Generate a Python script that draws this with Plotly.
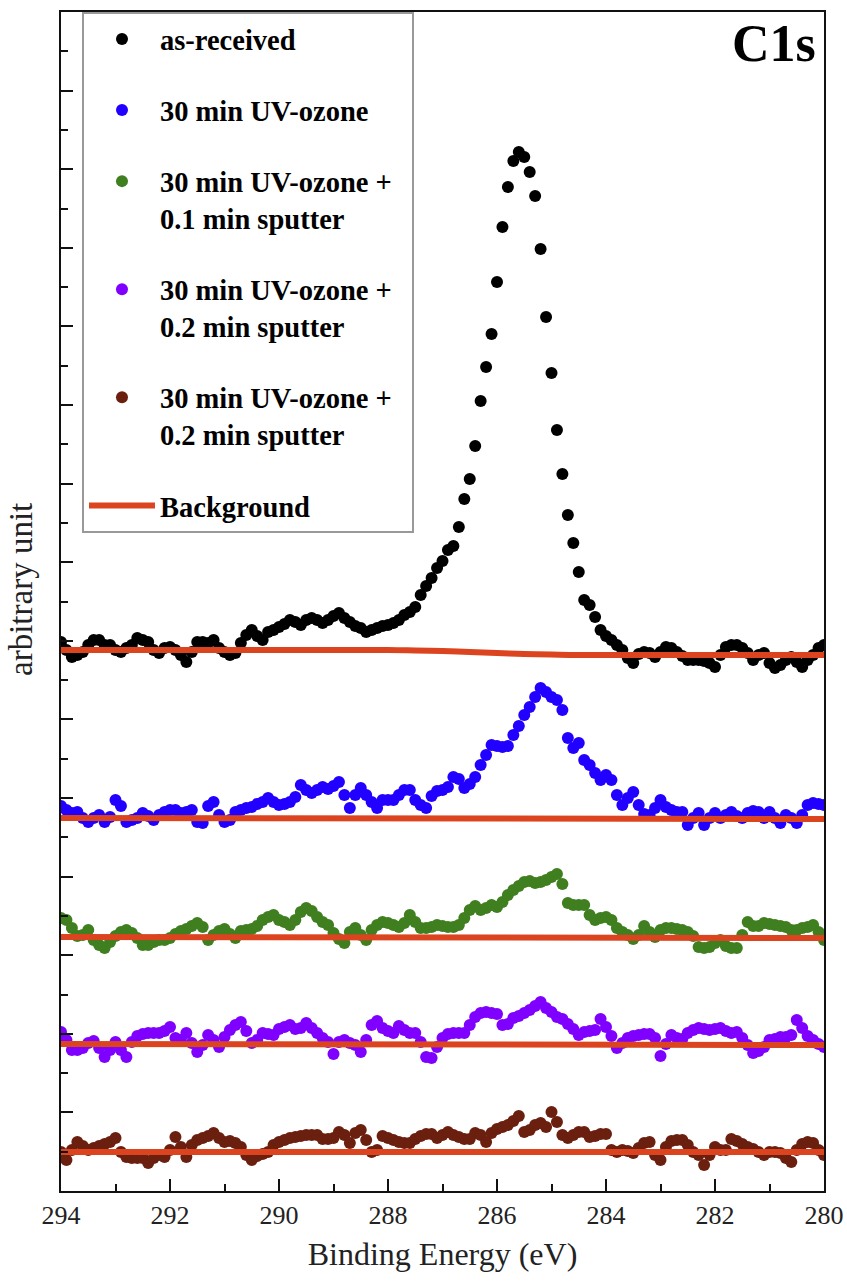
import numpy as np
import plotly.graph_objects as go

# Binding-energy grid (0.1 eV steps, 294 -> 280 eV)
energy = np.linspace(294, 280, 141)

# Intensities (arbitrary units, stacked as displayed)
as_received = [549,541,534,536,539,546,551,551,546,546,
 541,539,543,546,553,551,549,541,538,543,
 544,541,536,529,539,549,549,548,551,543,
 539,536,538,548,556,561,555,551,559,561,
 564,567,571,569,566,571,573,571,568,571,
 575,578,573,569,565,563,559,561,563,565,
 566,568,571,576,579,584,596,605,613,623,
 630,641,645,664,692,712,745,790,824,857,
 909,964,1004,1030,1039,1034,1019,995,942,874,
 818,761,717,676,648,619,591,586,574,561,
 555,551,546,541,533,528,537,539,538,534,
 539,544,543,539,535,531,531,531,530,528,
 524,536,544,546,546,543,538,531,536,538,
 528,523,526,531,534,529,524,531,536,543,
 546]

uv30 = [385,381,378,379,373,369,373,376,369,374,
 391,385,369,371,373,378,375,371,376,379,
 381,381,378,379,381,369,368,385,389,376,
 369,371,379,381,383,384,387,389,393,389,
 386,387,389,394,406,401,398,401,404,402,
 405,409,396,383,396,403,396,389,383,391,
 391,391,396,401,401,391,386,383,395,400,
 401,404,414,412,403,407,414,426,436,446,
 445,444,445,456,465,476,484,494,503,499,
 494,491,481,453,443,448,431,426,418,411,
 416,411,396,386,393,399,386,377,376,383,
 391,384,381,379,379,366,373,378,366,373,
 378,373,376,379,375,373,378,380,379,373,
 379,373,368,376,373,368,376,386,388,387,
 386]

uv30_sp01 = [273,271,263,255,256,261,251,246,243,249,
 255,259,261,258,253,246,246,249,251,251,
 253,257,260,262,265,268,264,251,256,260,
 262,257,253,260,261,262,265,271,274,276,
 271,269,266,271,279,283,280,274,269,266,
 258,252,248,259,263,256,251,261,266,269,
 268,266,264,268,276,269,263,263,264,266,
 265,264,264,266,273,281,285,281,283,286,
 284,289,296,301,305,309,310,308,309,311,
 314,317,307,288,286,286,286,276,271,273,
 274,271,263,259,256,252,256,265,259,254,
 261,263,263,262,261,259,255,244,243,244,
 248,251,245,243,243,256,269,265,265,268,
 267,266,265,264,261,261,263,264,266,259,
 251]

uv30_sp02a = [159,151,141,141,143,148,150,143,134,141,
 149,141,134,149,155,157,158,158,158,160,
 164,153,151,158,148,139,146,156,151,144,
 154,161,166,169,160,148,151,158,157,156,
 162,164,166,162,163,168,163,158,153,149,
 137,149,151,148,146,139,151,166,170,163,
 160,158,165,161,158,158,149,134,133,144,
 153,157,158,158,158,166,174,178,179,178,
 177,166,167,173,175,178,181,185,189,183,
 179,174,172,167,162,156,159,160,161,172,
 164,155,143,148,153,155,156,157,157,153,
 135,147,156,153,152,158,161,163,162,161,
 162,163,160,158,159,153,146,138,140,144,
 151,152,154,154,156,171,163,155,151,147,
 144]

uv30_sp02b = [39,31,41,49,45,41,43,45,47,49,
 53,39,34,33,33,33,28,33,36,34,
 41,54,44,34,46,51,53,55,58,53,
 49,50,48,44,36,31,35,37,39,46,
 49,51,53,54,55,56,56,56,52,52,
 53,59,56,48,58,61,51,39,41,55,
 53,51,49,48,48,52,55,57,57,53,
 56,59,56,54,52,52,58,56,49,58,
 62,64,66,70,75,59,61,66,68,64,
 79,69,56,53,56,59,59,54,55,57,
 57,41,39,41,40,38,43,48,49,36,
 31,44,50,51,51,46,39,36,26,36,
 44,41,41,52,50,47,44,42,39,36,
 39,39,38,33,29,41,47,49,48,41,
 36]

# Backgrounds (Shirley-type), read at a few energies
bg_energy_ar = [294, 288, 287.5, 287, 286.5, 286, 285.5, 285, 284.5, 280]
bg_ar = [541, 541, 540.5, 540, 539, 538, 537, 536.5, 536, 536]
bg_energy = [294, 280]
bg_uv30 = [373, 372]
bg_sp01 = [254, 253]
bg_sp02a = [147, 146]
bg_sp02b = [39, 39]

series_names = ["as-received", "30 min UV-ozone",
                "30 min UV-ozone +&nbsp;&nbsp;<br>0.1 min sputter",
                "30 min UV-ozone +<br>0.2 min sputter",
                "30 min UV-ozone +<br>0.2 min sputter"]
series_values = [as_received, uv30, uv30_sp01, uv30_sp02a, uv30_sp02b]
series_colors = ["#000000", "#2200FF", "#3F7F1F", "#7F00FF", "#6B1F0F"]
bg_x = [bg_energy_ar, bg_energy, bg_energy, bg_energy, bg_energy]
bg_y = [bg_ar, bg_uv30, bg_sp01, bg_sp02a, bg_sp02b]
bg_color = "#DC4420"

FONT = "Liberation Serif"

fig = go.Figure()
for k, (name, vals, col) in enumerate(zip(series_names, series_values, series_colors)):
    fig.add_trace(go.Scatter(
        x=energy, y=vals, mode="markers", name=name,
        legendgroup=f"g{k}",
        marker=dict(size=12, color=col, line=dict(width=0)),
    ))
for k, (bx, by) in enumerate(zip(bg_x, bg_y)):
    fig.add_trace(go.Scatter(
        x=bx, y=by, mode="lines", name="Background",
        legendgroup="bg", showlegend=(k == 0),
        line=dict(color=bg_color, width=6, shape="spline"),
    ))

fig.update_layout(
    width=847, height=1283,
    margin=dict(l=61, r=23, t=12, b=92),
    paper_bgcolor="white", plot_bgcolor="white",
    font=dict(family=FONT, color="black"),
    showlegend=True,
    legend=dict(
        x=0.0275, y=1.0, xanchor="left", yanchor="top",
        bgcolor="white", bordercolor="#999999", borderwidth=2,
        font=dict(family=FONT, size=28.5, color="black", weight="bold"),
        tracegroupgap=31, valign="top", itemwidth=66,
    ),
    annotations=[
        dict(text="<b>C1s</b>", xref="paper", yref="paper",
             x=0.992, y=0.9992, xanchor="right", yanchor="top",
             showarrow=False, font=dict(family=FONT, size=52, color="black")),
        dict(text="arbitrary unit", xref="paper", yref="paper",
             x=-0.0524, y=0.5098, xanchor="center", yanchor="middle",
             textangle=-90, showarrow=False,
             font=dict(family=FONT, size=33, color="#222")),
    ],
)
fig.update_xaxes(
    range=[294, 280], tickmode="linear", tick0=280, dtick=2,
    ticks="inside", ticklen=12, tickwidth=2, tickcolor="#111",
    minor=dict(ticks="inside", ticklen=7, tickwidth=2, dtick=1, tickcolor="#111"),
    showline=True, linewidth=2, linecolor="#111", mirror=True,
    showgrid=False, zeroline=False, automargin=False,
    tickfont=dict(family=FONT, size=26, color="#222"),
    title=dict(text="Binding Energy (eV)", font=dict(family=FONT, size=32, color="#222"), standoff=13),
)
fig.update_yaxes(
    range=[0, 1179], tickmode="linear", tick0=0, dtick=78.6,
    ticks="inside", ticklen=12, tickwidth=2, tickcolor="#111",
    minor=dict(ticks="inside", ticklen=7, tickwidth=2, dtick=39.3, tickcolor="#111"),
    showline=True, linewidth=2, linecolor="#111", mirror=True,
    showgrid=False, zeroline=False, showticklabels=False, automargin=False,
)

fig.write_html("out.html")
